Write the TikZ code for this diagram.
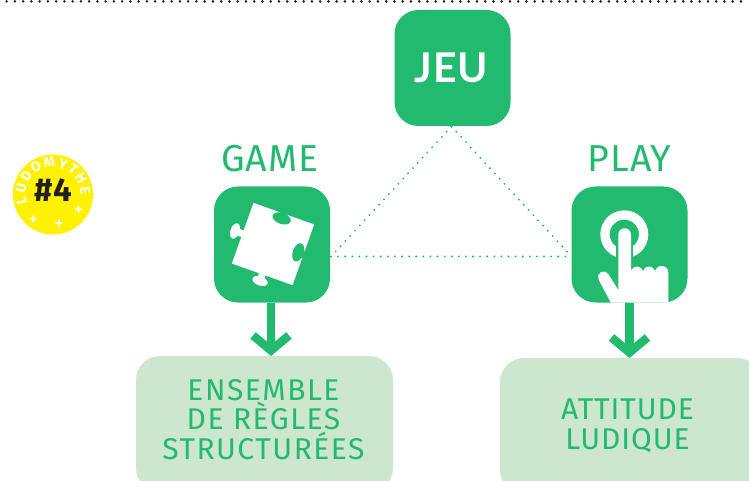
\documentclass[tikz,border=0pt]{standalone}
\usepackage{fontspec}
\setmainfont{Fira Sans}
\newfontfamily\jeufont{Lato}
\usetikzlibrary{arrows.meta,decorations.text}
\definecolor{gr}{HTML}{22BA6F}
\definecolor{lgr}{HTML}{CDE6CE}
\definecolor{yel}{HTML}{FFF200}
\definecolor{dk}{HTML}{231F20}
\tikzset{
  iconbox/.style={fill=gr,rounded corners=24pt,minimum width=116pt,minimum height=116pt,inner sep=0pt,outer sep=0pt},
  softbox/.style={fill=lgr,rounded corners=24pt,inner sep=0pt,outer sep=0pt},
  softtext/.style={text=gr,align=center,inner sep=0pt,font=\addfontfeatures{LetterSpace=5}\fontsize{30}{29.5}\selectfont},
  softtextb/.style={text=gr,align=center,inner sep=0pt,font=\addfontfeatures{LetterSpace=3}\fontsize{30}{29.5}\selectfont},
  title/.style={text=gr,inner sep=0pt,anchor=base,font=\addfontfeatures{LetterSpace=3}\fontsize{37.5}{37.5}\selectfont},
  dotline/.style={draw=gr,line width=2.1pt,line cap=round,dash pattern=on 0pt off 7.1pt},
  bigarrow/.style={draw=gr,line width=8.5pt,-{Straight Barb[length=15pt,width=36pt,line width=8.5pt]}},
  plus/.style={text=white,inner sep=0pt,font=\bfseries\fontsize{15}{15}\selectfont}
}
\begin{document}
\begin{tikzpicture}[x=1pt,y=-1pt]
\useasboundingbox (0,0) rectangle (749,481);
\clip (0,0) rectangle (749,481);
% top dotted rule
\coordinate (r1) at (6.7,1.4);
\coordinate (r2) at (749,1.4);
\draw[dk,line width=2.8pt,line cap=round,dash pattern=on 0pt off 8.25pt] (r1) -- (r2);
% lower boxes
\node[softbox,minimum width=257pt,minimum height=136pt] (ens) at (264.5,424) {};
\node[softbox,minimum width=261pt,minimum height=136pt] (att) at (630.5,426) {};
\node[softtext] (enst) at (263.5,419.5) {ENSEMBLE\\DE RÈGLES\\STRUCTURÉES};
\node[softtextb] (attt) at (627.5,425.5) {ATTITUDE\\LUDIQUE};
% dotted triangle
\coordinate (ta) at (451.5,126.5);
\coordinate (tb) at (331,256.5);
\coordinate (tc) at (571.5,256.5);
\draw[dotline] (ta) -- (tb);
\draw[dotline] (ta) -- (tc);
\draw[dotline] (tb) -- (tc);
% icon boxes
\node[iconbox] (jeu) at (452.5,68) {};
\node[iconbox] (game) at (272,244.5) {};
\node[iconbox] (play) at (629.5,244.5) {};
\node[text=white,inner sep=0pt,anchor=base,font=\jeufont\bfseries\addfontfeatures{LetterSpace=2}\fontsize{41}{41}\selectfont] (jeut) at (451.5,83) {JEU};
\node[title] (gamet) at (270,172) {GAME};
\node[title] (playt) at (629.5,172) {PLAY};
% arrows
\draw[bigarrow] ([xshift=-1pt]game.south) -- ([xshift=-1pt]game.south |- ens.north);
\draw[bigarrow] ([yshift=2pt]play.south) -- (play.south |- att.north);
% puzzle
\begin{scope}[shift={(273,244)},rotate=-19.6]
  \fill[white] (-32.2,-32.2) rectangle (32.2,32.2);
  \fill[white] (-40.2,0.5) ellipse (4.5 and 8);
  \fill[white] (-38,-3) rectangle (-32,4);
  \fill[white] (0.2,39.2) ellipse (8 and 4.5);
  \fill[white] (-3.5,31) rectangle (3.5,37);
  \fill[gr] (-0.4,-27) ellipse (9.5 and 5.5);
  \fill[gr] (-4,-33) rectangle (4,-27);
  \fill[gr] (26.6,-0.6) ellipse (5.5 and 9.5);
  \fill[gr] (27,-4) rectangle (33,3);
\end{scope}
% hand
\fill[white,even odd rule] (624.3,234.3) circle (24) (624.3,234.3) circle (14.7);
\fill[gr] (616.2,234.5) arc (180:360:8.4) -- (632.8,270) -- (616.2,290) -- cycle;
\fill[white] (610.7,302.5) -- (598.6,279.6)
  arc[start angle=152,end angle=332,radius=5.6] -- (618.3,290) -- (618.3,234.6)
  arc[start angle=180,end angle=360,radius=6.35]
  -- (631,272.5)
  arc[start angle=180,end angle=360,radius=6] -- (643,272.5)
  arc[start angle=180,end angle=360,radius=6] -- (655,272.5)
  arc[start angle=180,end angle=360,radius=6.65] -- (668.3,302.5) -- cycle;
% badge
\node[circle,fill=yel,minimum size=80pt,inner sep=0pt] (badge) at (53,194.5) {};
\path[postaction={decorate,decoration={text along path,text align={fit to path},
  text={|\color{white}\bfseries\fontsize{14}{14}\selectfont|LUDOMYTHE}}}]
  (badge.center) ++(-198:27.5) arc[start angle=-198,end angle=0,radius=27.5];
\node[text=dk,inner sep=0pt,anchor=base,font=\bfseries\fontsize{33}{33}\selectfont] (num) at (53.5,201.5) {\#4};
\node[plus] (p1) at (33.3,220.5) {+};
\node[plus] (p2) at (59,224.5) {+};
\node[plus] (p3) at (78.7,210.2) {+};
\end{tikzpicture}
\end{document}
